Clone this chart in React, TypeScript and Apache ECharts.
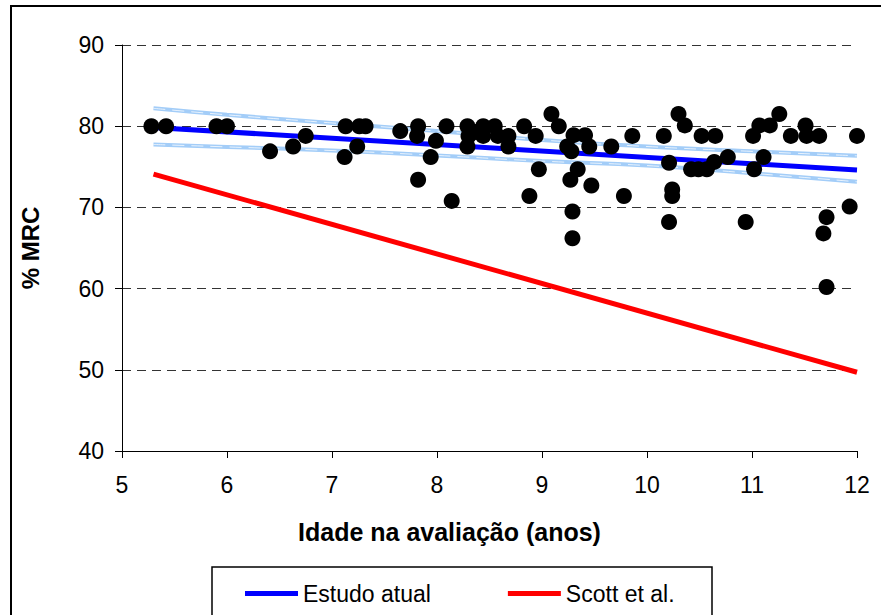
import React, { useEffect, useRef } from "react";
import * as echarts from "echarts";

// Observed data: [age (years), % MRC]
const pointsX = [
  5.28, 5.42, 5.9, 6.0, 6.41, 6.63, 6.75, 7.13, 7.12, 7.24, 7.26, 7.32, 7.65, 7.82, 7.81, 7.99, 8.09, 7.94, 7.82, 8.14,
  8.29, 8.3, 8.29, 8.44, 8.44, 8.37, 8.55, 8.58, 8.68, 8.68, 8.83, 8.94, 8.97, 8.88, 9.09, 9.16, 9.24, 9.28, 9.3, 9.41,
  9.45, 9.34, 9.27, 9.47, 9.29, 9.29, 9.66, 9.78, 9.86, 10.16, 10.3, 10.36, 10.21, 10.24, 10.24, 10.21, 10.52, 10.65,
  10.42, 10.49, 10.57, 10.64, 10.77, 10.94, 11.01, 11.02, 11.07, 11.11, 11.17, 11.26, 11.37, 11.51, 11.52, 11.64,
  11.71, 11.68, 11.71, 11.93, 12.0,
];
const pointsY = [
  80.0, 80.0, 80.0, 80.0, 76.9, 77.5, 78.8, 80.0, 76.2, 77.5, 80.0, 80.0, 79.4, 80.0, 78.8, 78.2, 80.0, 76.2, 73.4, 70.8,
  80.0, 78.8, 77.5, 80.0, 78.8, 79.3, 80.0, 78.8, 78.8, 77.5, 80.0, 78.8, 74.7, 71.4, 81.5, 80.0, 77.5, 76.9, 78.9, 78.9,
  77.5, 74.7, 73.4, 72.7, 69.5, 66.2, 77.5, 71.4, 78.8, 78.8, 81.5, 80.1, 75.5, 72.2, 71.4, 68.2, 78.8, 78.8,
  74.7, 74.7, 74.7, 75.6, 76.2, 68.2, 78.8, 74.7, 80.1, 76.2, 80.1, 81.5, 78.8, 80.1, 78.8, 78.8,
  68.8, 66.8, 60.2, 70.1, 78.8,
];

// Regression lines
const lineX = [5.3, 12];
const estudoAtual = [79.85, 74.6];
const scottEtAl = [74.1, 49.7];

// Confidence band of the current-study regression
const bandX = [5.3, 6, 7, 8, 9, 10, 11, 12];
const bandUpper = [82.2, 81.4, 80.4, 79.4, 78.3, 77.5, 76.9, 76.35];
const bandLower = [77.75, 77.45, 77.0, 76.4, 75.7, 75.15, 74.2, 73.15];

const yTicks = [40, 50, 60, 70, 80, 90];
const xTicks = [5, 6, 7, 8, 9, 10, 11, 12];

const FONT = "'Liberation Sans', Arial, sans-serif";

export default function App() {
  const ref = useRef<HTMLDivElement>(null);

  useEffect(() => {
    if (!ref.current) return;
    const chart = echarts.init(ref.current, undefined, { renderer: "svg" });
    const zip = (xs: number[], ys: number[]) => xs.map((x, i) => [x, ys[i]]);
    const bandSeries = (data: number[][]) => [
      {
        type: "line",
        data,
        smooth: true,
        symbol: "none",
        silent: true,
        z: 1,
        lineStyle: { color: "#a3cdf8", width: 4 },
      },
      {
        type: "line",
        data,
        smooth: true,
        symbol: "none",
        silent: true,
        z: 1,
        lineStyle: { color: "#ffffff", width: 1, type: [12, 7], opacity: 0.75 },
      },
    ];
    chart.setOption({
      animation: false,
      textStyle: { fontFamily: FONT },
      grid: { left: 122, top: 45, right: 24, bottom: 164, containLabel: false },
      xAxis: {
        type: "value",
        min: xTicks[0],
        max: xTicks[xTicks.length - 1],
        interval: 1,
        name: "Idade na avaliação (anos)",
        nameLocation: "middle",
        nameGap: 68,
        nameTextStyle: { fontSize: 25, fontWeight: "bold", color: "#000", padding: [0, 80, 0, 0] },
        axisLine: { lineStyle: { color: "#000", width: 1 } },
        axisTick: { length: 7, lineStyle: { color: "#000" } },
        axisLabel: { fontSize: 23, color: "#000", margin: 22 },
        splitLine: { show: false },
      },
      yAxis: {
        type: "value",
        min: yTicks[0],
        max: yTicks[yTicks.length - 1],
        interval: 10,
        name: "% MRC",
        nameLocation: "middle",
        nameGap: 80,
        nameRotate: 90,
        nameTextStyle: { fontSize: 24, fontWeight: "bold", color: "#000" },
        axisLine: { show: true, lineStyle: { color: "#000", width: 1 } },
        axisTick: { show: true, length: 7, lineStyle: { color: "#000" } },
        axisLabel: { fontSize: 23, color: "#000", margin: 18 },
        splitLine: { show: true, lineStyle: { color: "#333", type: [9, 6], width: 1 } },
      },
      legend: {
        data: ["Estudo atual", "Scott et al."],
        left: 240,
        top: 577,
        icon: "rect",
        itemWidth: 53,
        itemHeight: 5,
        itemGap: 77,
        textStyle: { fontSize: 23, color: "#000", fontFamily: FONT },
      },
      graphic: [
        {
          type: "rect",
          shape: { x: 11, y: 6, width: 900, height: 700 },
          style: { fill: "none", stroke: "#000", lineWidth: 2 },
          silent: true,
          z: -10,
        },
        {
          type: "rect",
          shape: { x: 212, y: 567, width: 500, height: 80 },
          style: { fill: "none", stroke: "#000", lineWidth: 1.5 },
          silent: true,
          z: -10,
        },
      ],
      series: [
        ...bandSeries(zip(bandX, bandUpper)),
        ...bandSeries(zip(bandX, bandLower)),
        {
          name: "Estudo atual",
          type: "line",
          data: zip(lineX, estudoAtual),
          symbol: "none",
          z: 3,
          lineStyle: { color: "#0000ff", width: 5 },
          itemStyle: { color: "#0000ff" },
        },
        {
          name: "Scott et al.",
          type: "line",
          data: zip(lineX, scottEtAl),
          symbol: "none",
          z: 3,
          lineStyle: { color: "#ff0000", width: 5 },
          itemStyle: { color: "#ff0000" },
        },
        {
          name: "Dados",
          type: "scatter",
          data: zip(pointsX, pointsY),
          symbol: "circle",
          symbolSize: 16,
          z: 5,
          itemStyle: { color: "#000", opacity: 1 },
        },
      ],
    });
    return () => chart.dispose();
  }, []);

  return (
    <div
      ref={ref}
      style={{ position: "fixed", left: 0, top: 0, width: 881, height: 615, background: "#fff" }}
    />
  );
}
